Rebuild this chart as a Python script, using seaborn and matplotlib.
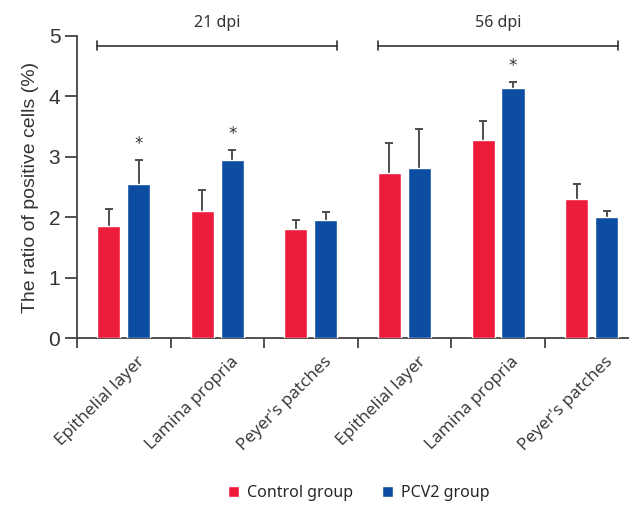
import matplotlib
matplotlib.use("Agg")
import matplotlib.pyplot as plt
import matplotlib.transforms as mtransforms
import seaborn as sns
import pandas as pd
import numpy as np

tissues = ["Epithelial layer", "Lamina propria", "Peyer's patches",
           "Epithelial layer", "Lamina propria", "Peyer's patches"]
timepoints = ["21 dpi", "21 dpi", "21 dpi", "56 dpi", "56 dpi", "56 dpi"]
control_vals = [1.86, 2.10, 1.81, 2.73, 3.28, 2.30]
control_err = [0.28, 0.36, 0.15, 0.50, 0.32, 0.25]
pcv2_vals = [2.55, 2.95, 1.96, 2.81, 4.14, 2.00]
pcv2_err = [0.39, 0.16, 0.13, 0.65, 0.09, 0.10]
pcv2_signif = [True, True, False, False, True, False]
groups = ["Control group", "PCV2 group"]
colors = ["#ED1C3A", "#0D4DA1"]

sns.set_theme(style="ticks")
plt.rcParams["font.family"] = ["Liberation Sans", "DejaVu Sans"]

keys = [f"{t} ({d})" for t, d in zip(tissues, timepoints)]
df = pd.DataFrame({
    "site": keys * 2,
    "group": [groups[0]] * 6 + [groups[1]] * 6,
    "value": control_vals + pcv2_vals,
})

fig = plt.figure(figsize=(6.29, 5.05), dpi=100)
ax = fig.add_axes([0.1224, 0.330, 0.8776, 0.599])
sns.barplot(data=df, x="site", y="value", hue="group", order=keys,
            hue_order=groups, palette=colors, errorbar=None,
            width=0.64, gap=0.23, saturation=1, ax=ax, legend=True)
for cont in ax.containers:
    for p in cont.patches:
        p.set_zorder(3)

errs = [control_err, pcv2_err]
vals = [control_vals, pcv2_vals]
for cont, e, v in zip(ax.containers, errs, vals):
    xs = [p.get_x() + p.get_width() / 2 for p in cont.patches]
    eb = ax.errorbar(xs, v, yerr=[np.zeros(len(e)), e], fmt="none",
                     ecolor="#4d4d4d", elinewidth=1.4, capsize=3,
                     capthick=1.4, zorder=2)
    caplines = eb.lines[1]
    if len(caplines) == 2:
        caplines[0].set_visible(False)

# significance stars
blue = ax.containers[1].patches
for p, s, v, e in zip(blue, pcv2_signif, pcv2_vals, pcv2_err):
    if s:
        ax.text(p.get_x() + p.get_width() / 2, v + e + 0.12, "*",
                ha="center", va="bottom", fontsize=12, color="#333333",
                family=["DejaVu Sans"])

# time point brackets
red = ax.containers[0].patches
for d, idx in [("21 dpi", (0, 2)), ("56 dpi", (3, 5))]:
    x0 = red[idx[0]].get_x()
    x1 = blue[idx[1]].get_x() + blue[idx[1]].get_width()
    yb = 4.84
    ax.plot([x0, x1], [yb, yb], color="#333333", lw=1.2, clip_on=False)
    for xx in (x0, x1):
        ax.plot([xx, xx], [yb - 0.07, yb + 0.07], color="#333333", lw=1.2,
                clip_on=False)
    ax.text((x0 + x1) / 2, 5.21, d, ha="center", va="center", fontsize=11.5,
            color="#333333", family=["Noto Sans", "DejaVu Sans"])

ax.set_xlim(-0.5, 5.40)
ax.set_ylim(0, 5)
ax.set_yticks([0, 1, 2, 3, 4, 5])
ax.tick_params(axis="y", labelsize=15, length=9, width=1.3, color="#444444",
               labelcolor="#333333", pad=3)
ax.set_xticks(range(6))
ax.set_xticklabels(tissues, rotation=45, ha="right", rotation_mode="anchor",
                   fontsize=12.5, color="#333333",
                   family=["Open Sans", "DejaVu Sans"])
ax.tick_params(axis="x", which="major", length=0, pad=11)
offset = mtransforms.ScaledTranslation(13 / 100, 0, fig.dpi_scale_trans)
for lab in ax.get_xticklabels():
    lab.set_transform(lab.get_transform() + offset)
ax.set_xticks([-0.5, 0.5, 1.5, 2.5, 3.5, 4.5], minor=True)
ax.tick_params(axis="x", which="minor", length=7, width=1.3, color="#444444")
ax.set_xlabel("")
ax.set_ylabel("The ratio of positive cells (%)", fontsize=14,
              color="#333333", labelpad=7)
for sp in ["top", "right"]:
    ax.spines[sp].set_visible(False)
for sp in ["left", "bottom"]:
    ax.spines[sp].set_linewidth(1.3)
    ax.spines[sp].set_color("#444444")

handles, labels = ax.get_legend_handles_labels()
ax.legend_.remove()
fig.legend(handles, labels, loc="center", bbox_to_anchor=(0.57, 0.024),
           ncol=2, frameon=False, handlelength=0.7, handleheight=0.7,
           handletextpad=0.5, columnspacing=1.8,
           prop={"family": ["Noto Sans", "DejaVu Sans"], "size": 11.5})

fig.savefig("out.png", dpi=100)
